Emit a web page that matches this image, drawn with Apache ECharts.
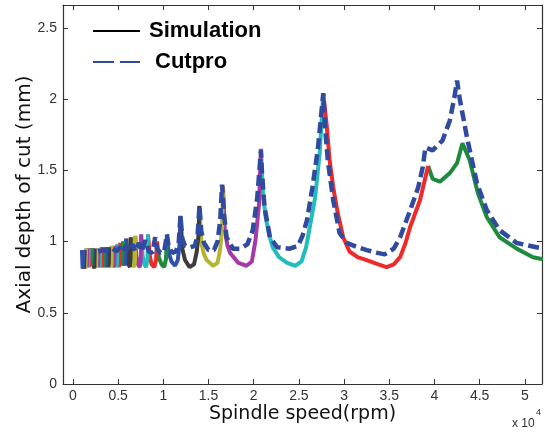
<!DOCTYPE html>
<html><head><meta charset="utf-8">
<script src="https://cdn.jsdelivr.net/npm/echarts@6/dist/echarts.min.js"></script>
<style>html,body{margin:0;padding:0;background:#fff}#c{width:545px;height:432px}</style>
</head><body><div id="c"></div>
<script>
// Spindle speed in units of 10^4 rpm, axial depth of cut in mm
const xTicks = [0, 0.5, 1, 1.5, 2, 2.5, 3, 3.5, 4, 4.5, 5];
const yTicks = [0, 0.5, 1, 1.5, 2, 2.5];

// Simulation stability lobes, listed from right (high speed) to left
const simLobes = [
  [[3.93,1.53],[3.98,1.44],[4.06,1.42],[4.17,1.48],[4.25,1.55],[4.31,1.69],[4.39,1.57],[4.48,1.34],[4.58,1.17],[4.72,1.03],[4.91,0.95],[5.09,0.89],[5.2,0.875]],
  [[2.77,2.04],[2.81,1.80],[2.84,1.57],[2.88,1.38],[2.93,1.20],[2.99,1.03],[3.06,0.93],[3.15,0.89],[3.25,0.87],[3.38,0.84],[3.47,0.82],[3.55,0.84],[3.62,0.89],[3.68,0.99],[3.73,1.10],[3.84,1.29],[3.93,1.53]],
  [[2.08,1.65],[2.10,1.36],[2.13,1.18],[2.17,1.05],[2.21,0.96],[2.28,0.89],[2.37,0.85],[2.46,0.83],[2.53,0.86],[2.58,0.96],[2.62,1.10],[2.68,1.31],[2.73,1.62],[2.77,2.04]],
  [[1.66,1.39],[1.68,1.08],[1.71,0.97],[1.74,0.92],[1.83,0.85],[1.92,0.83],[1.98,0.86],[2.02,1.01],[2.06,1.27],[2.08,1.65]],
  [[1.40,1.25],[1.42,0.99],[1.45,0.91],[1.48,0.87],[1.55,0.83],[1.60,0.85],[1.63,0.95],[1.65,1.10],[1.66,1.39]],
  [[1.19,1.18],[1.21,0.95],[1.24,0.87],[1.29,0.82],[1.34,0.84],[1.37,0.93],[1.39,1.05],[1.40,1.25]],
  [[1.04,1.04],[1.06,0.92],[1.09,0.86],[1.13,0.83],[1.16,0.87],[1.18,0.98],[1.19,1.18]],
  [[0.93,1.00],[0.95,0.89],[0.98,0.84],[1.01,0.82],[1.03,0.88],[1.04,1.04]],
  [[0.83,1.05],[0.85,0.90],[0.87,0.84],[0.90,0.82],[0.92,0.87],[0.93,1.00]],
  [[0.755,1.05],[0.77,0.90],[0.79,0.84],[0.81,0.82],[0.825,0.88],[0.83,1.05]],
  [[0.69,1.04],[0.70,0.90],[0.72,0.84],[0.74,0.82],[0.75,0.88],[0.755,1.05]],
  [[0.64,1.03],[0.65,0.90],[0.665,0.84],[0.68,0.82],[0.687,0.88],[0.69,1.04]],
  [[0.59,1.02],[0.60,0.89],[0.615,0.84],[0.63,0.82],[0.637,0.88],[0.64,1.03]],
  [[0.555,1.00],[0.565,0.88],[0.575,0.83],[0.585,0.82],[0.59,1.02]],
  [[0.52,0.99],[0.53,0.88],[0.54,0.83],[0.55,0.82],[0.555,1.00]],
  [[0.49,0.98],[0.50,0.87],[0.51,0.82],[0.517,0.83],[0.52,0.99]],
  [[0.46,0.97],[0.47,0.86],[0.48,0.82],[0.487,0.84],[0.49,0.98]],
  [[0.43,0.97],[0.44,0.86],[0.45,0.82],[0.457,0.84],[0.46,0.97]],
  [[0.40,0.96],[0.41,0.86],[0.42,0.82],[0.427,0.84],[0.43,0.97]],
  [[0.37,0.96],[0.38,0.85],[0.39,0.82],[0.397,0.85],[0.40,0.96]],
  [[0.345,0.96],[0.355,0.85],[0.363,0.82],[0.37,0.96]],
  [[0.32,0.96],[0.33,0.85],[0.338,0.82],[0.345,0.96]],
  [[0.30,0.95],[0.31,0.84],[0.317,0.82],[0.32,0.96]],
  [[0.28,0.95],[0.29,0.84],[0.297,0.82],[0.30,0.95]],
  [[0.26,0.95],[0.27,0.84],[0.277,0.82],[0.28,0.95]],
  [[0.24,0.95],[0.25,0.84],[0.257,0.82],[0.26,0.95]],
  [[0.22,0.95],[0.23,0.84],[0.237,0.81],[0.24,0.95]],
  [[0.205,0.95],[0.213,0.83],[0.22,0.95]],
  [[0.19,0.95],[0.198,0.83],[0.205,0.95]],
  [[0.175,0.95],[0.183,0.82],[0.19,0.95]],
  [[0.16,0.95],[0.168,0.82],[0.175,0.95]],
  [[0.145,0.95],[0.153,0.82],[0.16,0.95]],
  [[0.13,0.94],[0.138,0.81],[0.145,0.95]],
  [[0.115,0.94],[0.123,0.81],[0.13,0.94]],
  [[0.10,0.94],[0.107,0.81],[0.115,0.94]]
];

// Cutpro prediction
const cutpro = [
  [0.28,0.93],[0.34,0.94],[0.40,0.93],[0.44,0.95],[0.48,0.93],[0.52,0.96],[0.55,0.93],[0.59,0.97],[0.62,0.93],[0.66,0.98],
  [0.69,0.93],[0.73,0.99],[0.76,0.93],[0.80,1.01],[0.84,0.93],[0.88,0.92],[0.91,1.03],[0.93,0.95],[0.97,0.92],[1.01,0.93],
  [1.04,1.05],[1.06,0.96],[1.10,0.92],[1.14,0.93],[1.17,0.99],[1.19,1.18],[1.21,1.02],[1.24,0.97],[1.30,0.96],[1.35,0.97],
  [1.38,1.05],[1.40,1.25],[1.42,1.07],[1.45,0.99],[1.50,0.94],[1.56,0.94],[1.60,1.00],[1.63,1.15],[1.65,1.40],[1.67,1.20],
  [1.70,1.03],[1.77,0.95],[1.85,0.95],[1.93,0.98],[1.99,1.08],[2.04,1.31],[2.08,1.64],[2.09,1.50],[2.12,1.24],[2.18,1.03],
  [2.26,0.96],[2.40,0.95],[2.49,0.97],[2.54,1.04],[2.59,1.15],[2.65,1.38],[2.71,1.65],[2.77,2.04],[2.79,1.80],[2.82,1.57],
  [2.88,1.29],[2.95,1.06],[3.03,0.99],[3.15,0.96],[3.25,0.94],[3.37,0.92],[3.45,0.91],[3.55,0.95],[3.62,1.03],[3.72,1.20],
  [3.82,1.38],[3.87,1.52],[3.90,1.66],[3.98,1.64],[4.09,1.71],[4.17,1.85],[4.22,2.01],[4.25,2.13],[4.28,2.00],[4.31,1.90],
  [4.36,1.73],[4.47,1.41],[4.58,1.22],[4.72,1.08],[4.91,0.99],[5.20,0.95]
];

const lobeColors = ['#1e8a3c','#ee2b2b','#22bcbc','#a53aa5','#b5b530','#3c3c3c','#3050ad'];
const cutproColor = '#2f4a9e';
const axisColor = '#333';

const series = [];
simLobes.forEach((lobe, i) => {
  series.push({
    type: 'line', name: 'lobe' + i, data: lobe, symbol: 'none', clip: true,
    lineStyle: { color: lobeColors[i % lobeColors.length], width: 4 },
    itemStyle: { color: lobeColors[i % lobeColors.length] },
    silent: true
  });
});
series.push({ type: 'line', name: 'Simulation', data: [], symbol: 'none',
  lineStyle: { color: '#000', width: 3.5 }, itemStyle: { color: '#000', opacity: 0 } });
series.push({ type: 'line', name: 'Cutpro', data: cutpro, symbol: 'none', clip: true,
  lineStyle: { color: cutproColor, width: 4.5, type: [11, 5] }, itemStyle: { color: cutproColor, opacity: 0 } });

const xBase = { type: 'value', min: -0.11, max: 5.19,
  splitLine: { show: false },
  axisLine: { show: true, onZero: false, lineStyle: { color: axisColor, width: 1.2 } },
  axisTick: { show: true, inside: true, length: 5, customValues: xTicks, lineStyle: { color: axisColor } } };
const yBase = { type: 'value', min: 0, max: 2.66,
  splitLine: { show: false },
  axisLine: { show: true, onZero: false, lineStyle: { color: axisColor, width: 1.2 } },
  axisTick: { show: true, inside: true, length: 5, customValues: yTicks, lineStyle: { color: axisColor } } };

const chart = echarts.init(document.getElementById('c'), null, { renderer: 'canvas' });
chart.setOption({
  animation: false,
  backgroundColor: '#fff',
  grid: { left: 63, right: 3, top: 5, bottom: 48, containLabel: false },
  legend: {
    data: [
      { name: 'Simulation', textStyle: { padding: [0, 0, 0, 4] } },
      { name: 'Cutpro', textStyle: { padding: [0, 0, 0, 10] }, lineStyle: { type: [21, 6] } }
    ],
    orient: 'vertical', left: 87, top: 15, itemGap: 9, itemWidth: 47, itemHeight: 14,
    itemStyle: { opacity: 0, borderWidth: 0 },
    textStyle: { fontFamily: 'Liberation Sans, Arial, sans-serif', fontSize: 22, fontWeight: 'bold', color: '#000' },
    selectedMode: false
  },
  xAxis: [
    Object.assign({}, xBase, { position: 'bottom',
      axisLabel: { customValues: xTicks, fontFamily: 'Liberation Sans, Arial, sans-serif', fontSize: 14, color: '#333', margin: 5 },
      name: 'Spindle speed(rpm)', nameLocation: 'middle', nameGap: 21, nameMoveOverlap: false,
      nameTextStyle: { fontFamily: 'DejaVu Sans, sans-serif', fontSize: 19, color: '#111', verticalAlign: 'top' } }),
    Object.assign({}, xBase, { position: 'top', axisLabel: { show: false } })
  ],
  yAxis: [
    Object.assign({}, yBase, { position: 'left',
      axisLabel: { customValues: yTicks, fontFamily: 'Liberation Sans, Arial, sans-serif', fontSize: 14, color: '#333', margin: 6 },
      name: 'Axial depth of cut (mm)', nameLocation: 'middle', nameGap: 28, nameRotate: 90, nameMoveOverlap: false,
      nameTextStyle: { fontFamily: 'DejaVu Sans, sans-serif', fontSize: 20, color: '#111' } }),
    Object.assign({}, yBase, { position: 'right', axisLabel: { show: false } })
  ],
  graphic: [
    { type: 'text', left: 512, top: 418, style: { text: 'x 10', fontFamily: 'Liberation Sans, Arial, sans-serif', fontSize: 12, fill: '#333' } },
    { type: 'text', left: 536, top: 408, style: { text: '4', fontFamily: 'Liberation Sans, Arial, sans-serif', fontSize: 9, fill: '#333' } }
  ],
  series: series
});
</script>
</body></html>
